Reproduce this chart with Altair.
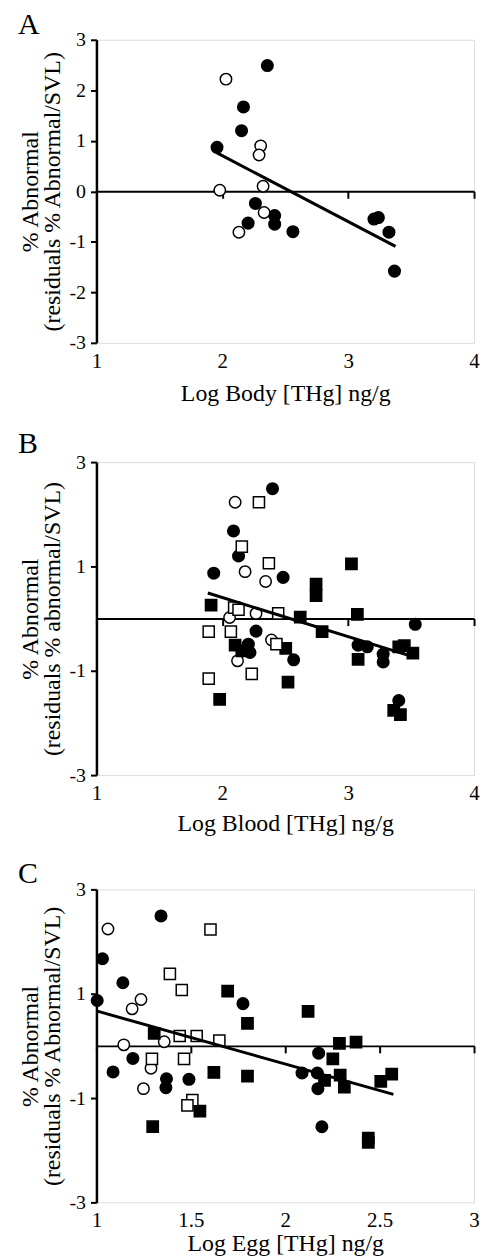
import altair as alt
import pandas as pd

FONT = "Liberation Serif"

# ---------------- Panel A : Log Body [THg] ----------------
a_fc_x = [2.358, 2.168, 2.153, 1.958, 2.263, 2.205, 2.416, 2.416, 2.561, 3.205, 3.240, 3.324, 3.368]
a_fc_y = [2.49, 1.67, 1.20, 0.87, -0.24, -0.63, -0.48, -0.65, -0.80, -0.55, -0.52, -0.81, -1.58]
a_oc_x = [2.029, 2.305, 2.292, 1.980, 2.324, 2.332, 2.132]
a_oc_y = [2.22, 0.90, 0.72, 0.02, 0.10, -0.42, -0.81]
a_line_x = [1.958, 3.376]
a_line_y = [0.76, -1.09]

# ---------------- Panel B : Log Blood [THg] ----------------
b_fc_x = [2.399, 2.089, 2.129, 1.932, 2.483, 2.268, 2.207, 2.220, 2.567, 3.079, 3.152, 3.278, 3.278, 3.533, 3.402]
b_fc_y = [2.49, 1.68, 1.20, 0.87, 0.79, -0.24, -0.49, -0.65, -0.79, -0.51, -0.54, -0.68, -0.83, -0.11, -1.57]
b_oc_x = [2.102, 2.181, 2.344, 2.058, 2.268, 2.391, 2.121]
b_oc_y = [2.23, 0.90, 0.71, 0.02, 0.10, -0.41, -0.81]
b_fs_x = [1.911, 3.026, 2.745, 2.745, 2.619, 3.073, 2.793, 2.102, 2.155, 2.504, 2.522, 1.979, 3.079, 3.402, 3.446, 3.514, 3.362, 3.415]
b_fs_y = [0.26, 1.05, 0.66, 0.44, 0.03, 0.08, -0.25, -0.51, -0.62, -0.57, -1.22, -1.55, -0.78, -0.54, -0.52, -0.66, -1.76, -1.84]
b_os_x = [2.291, 2.155, 2.370, 2.094, 2.129, 2.444, 1.892, 2.068, 2.430, 2.234, 1.892]
b_os_y = [2.23, 1.38, 1.06, 0.21, 0.17, 0.10, -0.25, -0.25, -0.49, -1.06, -1.15]
b_line_x = [1.885, 3.486]
b_line_y = [0.49, -0.71]

# ---------------- Panel C : Log Egg [THg] ----------------
c_fc_x = [1.342, 1.032, 1.140, 1.004, 1.776, 1.193, 1.088, 1.371, 1.368, 1.490, 2.089, 2.177, 2.170, 2.173, 2.194]
c_fc_y = [2.49, 1.67, 1.21, 0.87, 0.81, -0.24, -0.50, -0.63, -0.80, -0.64, -0.52, -0.14, -0.52, -0.82, -1.55]
c_oc_x = [1.061, 1.236, 1.189, 1.145, 1.359, 1.289, 1.249]
c_oc_y = [2.24, 0.89, 0.71, 0.02, 0.08, -0.43, -0.82]
c_fs_x = [1.695, 2.121, 1.800, 1.306, 2.287, 2.375, 2.252, 1.622, 1.800, 2.208, 2.291, 2.313, 2.506, 2.564, 1.548, 1.298, 2.440, 2.440]
c_fs_y = [1.05, 0.66, 0.43, 0.24, 0.05, 0.07, -0.25, -0.51, -0.58, -0.66, -0.56, -0.79, -0.68, -0.54, -1.25, -1.55, -1.77, -1.85]
c_os_x = [1.604, 1.389, 1.452, 1.441, 1.531, 1.651, 1.294, 1.464, 1.508, 1.482]
c_os_y = [2.23, 1.38, 1.07, 0.19, 0.19, 0.10, -0.25, -0.25, -1.04, -1.14]
c_line_x = [1.0, 2.573]
c_line_y = [0.67, -0.93]

KINDS = ["fc", "oc", "fs", "os"]


def points_frame(groups):
    rows = []
    for kind, xs, ys in groups:
        for x, y in zip(xs, ys):
            rows.append({"x": x, "y": y, "kind": kind})
    return pd.DataFrame(rows)


def panel(letter, groups, line_x, line_y, xdomain, xvalues, ytitle, yvalues, xtitle, height,
          title_offset, label_pad, title_pad):
    pts = points_frame(groups)
    ln = pd.DataFrame({"x": line_x, "y": line_y})
    xscale = alt.Scale(domain=xdomain, nice=False, zero=False)
    yscale = alt.Scale(domain=[-3, 3], nice=False, zero=False)
    yenc = alt.Y(
        "y:Q",
        scale=yscale,
        axis=alt.Axis(
            values=yvalues,
            title=ytitle,
            titleFont=FONT,
            titleFontSize=24,
            titleFontWeight="normal",
            titleLineHeight=22,
            titlePadding=5,
            titleColor="black",
            labelFont=FONT,
            labelFontSize=20,
            labelColor="black",
            labelPadding=5,
            labelFlush=False,
            labelExpr="'' + datum.value",
            tickSize=6,
            tickWidth=2,
            tickColor="black",
            domainColor="black",
            domainWidth=2.5,
            grid=False,
        ),
    )
    label_axis = alt.Axis(
        orient="bottom",
        values=xvalues,
        domain=False,
        ticks=False,
        tickSize=0,
        grid=False,
        labelFont=FONT,
        labelFontSize=21,
        labelColor="black",
        labelPadding=label_pad,
        labelFlush=False,
        labelExpr="'' + datum.value",
        title=xtitle,
        titleFont=FONT,
        titleFontSize=24,
        titleFontWeight="normal",
        titleColor="black",
        titlePadding=title_pad,
    )
    zero_axis = alt.Axis(
        orient="bottom",
        values=xvalues,
        offset=-height / 2,
        domain=True,
        domainColor="black",
        domainWidth=2,
        ticks=True,
        tickSize=7,
        tickWidth=2,
        tickColor="black",
        labels=False,
        grid=False,
        title=None,
    )
    point_layer = alt.Chart(pts).mark_point(filled=True, opacity=1, strokeWidth=1.5).encode(
        x=alt.X("x:Q", scale=xscale, axis=label_axis),
        y=yenc,
        shape=alt.Shape("kind:N", scale=alt.Scale(domain=KINDS, range=["circle", "circle", "square", "square"]), legend=None),
        fill=alt.Fill("kind:N", scale=alt.Scale(domain=KINDS, range=["black", "white", "black", "white"]), legend=None),
        size=alt.Size("kind:N", scale=alt.Scale(domain=KINDS, range=[135, 125, 100, 95]), legend=None),
        stroke=alt.value("black"),
    )
    line_layer = alt.Chart(ln).mark_line(color="black", strokeWidth=3).encode(
        x=alt.X("x:Q", scale=xscale, axis=zero_axis),
        y=yenc,
    )
    return (
        alt.layer(point_layer, line_layer)
        .resolve_axis(x="independent")
        .properties(
            width=380,
            height=height,
            title=alt.TitleParams(
                text=letter,
                anchor="start",
                frame="group",
                font=FONT,
                fontSize=30,
                fontWeight="normal",
                color="black",
                dx=-79,
                offset=title_offset,
            ),
        )
    )


pA = panel(
    "A",
    [("fc", a_fc_x, a_fc_y), ("oc", a_oc_x, a_oc_y)],
    a_line_x, a_line_y,
    [1, 4], [1, 2, 3, 4],
    ["% Abnormal", "(residuals % Abnormal/SVL)"],
    [-3, -2, -1, 0, 1, 2, 3],
    "Log Body [THg] ng/g",
    305, -10, 8, 10,
)
pB = panel(
    "B",
    [("fc", b_fc_x, b_fc_y), ("oc", b_oc_x, b_oc_y), ("fs", b_fs_x, b_fs_y), ("os", b_os_x, b_os_y)],
    b_line_x, b_line_y,
    [1, 4], [1, 2, 3, 4],
    ["% Abnormal", "(residuals % abnormal/SVL)"],
    [-3, -1, 1, 3],
    "Log Blood [THg] ng/g",
    315, -7, 8, 8,
)
pC = panel(
    "C",
    [("fc", c_fc_x, c_fc_y), ("oc", c_oc_x, c_oc_y), ("fs", c_fs_x, c_fs_y), ("os", c_os_x, c_os_y)],
    c_line_x, c_line_y,
    [1, 3], [1, 1.5, 2, 2.5, 3],
    ["% Abnormal", "(residuals % Abnormal/SVL)"],
    [-3, -1, 1, 3],
    "Log Egg [THg] ng/g",
    315, -10, 7, 1,
)

chart = (
    alt.vconcat(pA, pB, pC, spacing=22)
    .properties(padding={"left": 9, "top": -3, "right": 0, "bottom": 0})
    .configure_view(stroke=None)
    .configure(background="white")
)

chart.save("out.html", embed_options={"renderer": "svg", "actions": False})
